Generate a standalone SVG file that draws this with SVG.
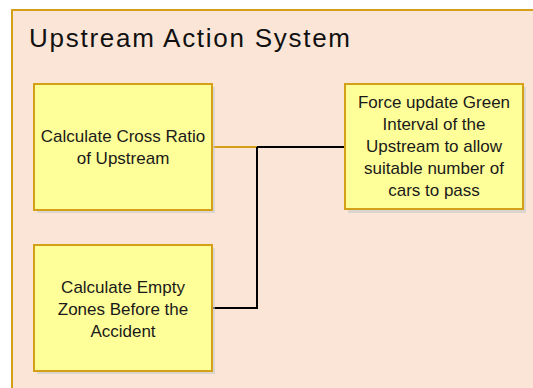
<svg xmlns="http://www.w3.org/2000/svg" width="533" height="388" viewBox="0 0 533 388">
<defs>
<style>
.node{fill:#FFFF99;stroke:#D4A017;stroke-width:2}
.shadow{fill:#C8C8C8;opacity:0.6}
.t{font-family:"Liberation Sans",Arial,sans-serif;font-size:17px;fill:#1A1A1A;text-anchor:middle}
.title{font-family:"Liberation Sans",Arial,sans-serif;font-size:26px;fill:#111}
.conn{fill:none;stroke-width:2}
</style>
</defs>
<rect width="533" height="388" fill="#FFFFFF"/>
<g id="container">
<rect x="12" y="10" width="530" height="390" fill="#FBE5D6" stroke="#D4A017" stroke-width="2"/>
<text class="title" x="29" y="47" textLength="321" lengthAdjust="spacing">Upstream Action System</text>
</g>
<g id="connectors">
<path class="conn" stroke="#D4A017" d="M212 147 H257"/>
<path class="conn" stroke="#000" d="M257 147 H345 M212 308 H257 V147"/>
</g>
<g id="node-cross-ratio">
<rect class="shadow" x="37" y="87" width="178" height="126"/>
<rect class="node" x="34" y="84" width="178" height="126"/>
<text class="t" x="123" y="142">Calculate Cross Ratio</text>
<text class="t" x="123" y="164">of Upstream</text>
</g>
<g id="node-empty-zones">
<rect class="shadow" x="37" y="248" width="178" height="126"/>
<rect class="node" x="34" y="245" width="178" height="126"/>
<text class="t" x="123" y="293">Calculate Empty</text>
<text class="t" x="123" y="315">Zones Before the</text>
<text class="t" x="123" y="337">Accident</text>
</g>
<g id="node-force-update">
<rect class="shadow" x="348" y="87" width="178" height="126"/>
<rect class="node" x="345" y="84" width="178" height="125"/>
<text class="t" x="434" y="108">Force update Green</text>
<text class="t" x="434" y="130">Interval of the</text>
<text class="t" x="434" y="152">Upstream to allow</text>
<text class="t" x="434" y="174">suitable number of</text>
<text class="t" x="434" y="196">cars to pass</text>
</g>
</svg>
